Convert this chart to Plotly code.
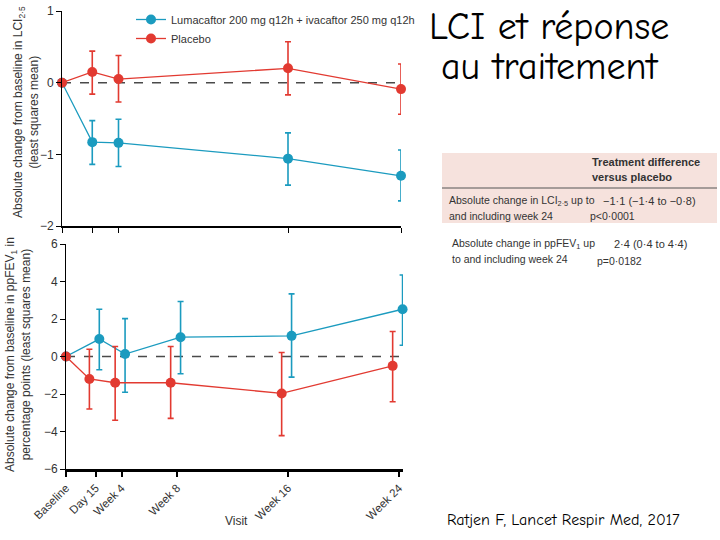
import plotly.graph_objects as go

# ---------------- data ----------------
visit_days = [0, 15, 28, 56, 112, 168]
visit_labels = ["Baseline", "Day 15", "Week 4", "Week 8", "Week 16", "Week 24"]

lci_days = [0, 15, 28, 112, 168]
lci_luma = [0, -0.83, -0.84, -1.06, -1.30]
lci_luma_hi = [0, -0.53, -0.51, -0.70, -0.94]
lci_luma_lo = [0, -1.14, -1.17, -1.43, -1.65]
lci_plac = [0, 0.15, 0.05, 0.20, -0.09]
lci_plac_hi = [0, 0.44, 0.38, 0.57, 0.26]
lci_plac_lo = [0, -0.16, -0.27, -0.17, -0.44]

fev_days = [0, 15, 28, 56, 112, 168]
fev_luma = [0, 0.93, 0.13, 1.03, 1.10, 2.52]
fev_luma_hi = [0, 2.52, 2.02, 2.93, 3.34, 4.35]
fev_luma_lo = [0, -0.71, -1.91, -0.92, -1.10, 0.60]
fev_plac = [0, -1.20, -1.40, -1.40, -1.97, -0.50]
fev_plac_hi = [0, 0.39, 0.53, 0.53, 0.21, 1.33]
fev_plac_lo = [0, -2.80, -3.40, -3.30, -4.22, -2.41]

series_names = ["Lumacaftor 200 mg q12h + ivacaftor 250 mg q12h", "Placebo"]

# ---------------- style ----------------
TEAL = "#1b9bbf"
RED = "#e23a31"
W, H = 720, 540
FONT = "Liberation Sans Narrow, Liberation Sans, Arial, sans-serif"
COMIC = "Comic Sans MS, Comic Neue, Noto Sans, sans-serif"
DODGE_LUMA = 1.8   # days, horizontal dodge in the lower panel
DODGE_PLAC = -3.2
X2_MAX = 170


def px(x):
    return x / W


def py(y):
    return 1 - y / H


def err(v, hi, lo):
    return dict(type="data", symmetric=False,
                array=[h - a for h, a in zip(hi, v)],
                arrayminus=[a - l for l, a in zip(lo, v)],
                thickness=1.6, width=3)


fig = go.Figure()

# zero reference lines
for xa, ya, xs in [("x", "y", lci_days), ("x2", "y2", fev_days)]:
    fig.add_trace(go.Scatter(x=[xs[0], xs[-1]], y=[0, 0], mode="lines",
                             line=dict(color="#4a4a4a", width=1.5, dash="dash"),
                             xaxis=xa, yaxis=ya, showlegend=False, hoverinfo="skip"))

# top panel (LCI)
fig.add_trace(go.Scatter(x=lci_days, y=lci_luma, mode="lines+markers", name=series_names[0],
                         line=dict(color=TEAL, width=1.3), marker=dict(color=TEAL, size=10),
                         error_y=dict(err(lci_luma, lci_luma_hi, lci_luma_lo), color=TEAL),
                         cliponaxis=False, xaxis="x", yaxis="y"))
fig.add_trace(go.Scatter(x=lci_days, y=lci_plac, mode="lines+markers", name=series_names[1],
                         line=dict(color=RED, width=1.3), marker=dict(color=RED, size=10),
                         error_y=dict(err(lci_plac, lci_plac_hi, lci_plac_lo), color=RED),
                         cliponaxis=False, xaxis="x", yaxis="y"))

# bottom panel (ppFEV1)
fev_x_luma = [d + (DODGE_LUMA if d > 0 else 0) for d in fev_days]
fev_x_plac = [d + (DODGE_PLAC if d > 0 else 0) for d in fev_days]
fig.add_trace(go.Scatter(x=fev_x_luma, y=fev_luma, mode="lines+markers", name=series_names[0],
                         line=dict(color=TEAL, width=1.3), marker=dict(color=TEAL, size=10),
                         error_y=dict(err(fev_luma, fev_luma_hi, fev_luma_lo), color=TEAL),
                         cliponaxis=False, showlegend=False, xaxis="x2", yaxis="y2"))
fig.add_trace(go.Scatter(x=fev_x_plac, y=fev_plac, mode="lines+markers", name=series_names[1],
                         line=dict(color=RED, width=1.3), marker=dict(color=RED, size=10),
                         error_y=dict(err(fev_plac, fev_plac_hi, fev_plac_lo), color=RED),
                         cliponaxis=False, showlegend=False, xaxis="x2", yaxis="y2"))

axis_common = dict(showgrid=False, zeroline=False, showline=True, linecolor="black",
                   ticks="outside", tickcolor="black", ticklen=5, automargin=False,
                   tickfont=dict(family=FONT, size=12, color="#333"))

x2_right = 66 + (399 - 66) * X2_MAX / 168

fig.update_layout(
    template="none",
    width=W, height=H, margin=dict(l=0, r=0, t=0, b=0, autoexpand=False),
    paper_bgcolor="white", plot_bgcolor="white",
    font=dict(family=FONT, size=12, color="#333"),
    xaxis=dict(axis_common, domain=[px(62), px(401)], range=[0, 168],
               tickvals=lci_days, showticklabels=False, linewidth=1.5, anchor="y"),
    yaxis=dict(axis_common, domain=[py(226), py(11)], range=[-2, 1],
               tickvals=[-2, -1, 0, 1], linewidth=1, anchor="x"),
    xaxis2=dict(axis_common, domain=[px(66), px(x2_right)], range=[0, X2_MAX],
                tickvals=visit_days, ticktext=visit_labels, tickangle=-45,
                linewidth=2.5, tickwidth=1.5, anchor="y2",
                tickfont=dict(family=FONT, size=11.5, color="#333")),
    yaxis2=dict(axis_common, domain=[py(469), py(244)], range=[-6, 6],
                tickvals=[-6, -4, -2, 0, 2, 4, 6], linewidth=1, anchor="x2"),
    legend=dict(x=px(131), y=py(5), xanchor="left", yanchor="top",
                bgcolor="rgba(0,0,0,0)", font=dict(family=FONT, size=11, color="#333"),
                tracegroupgap=0, itemwidth=30),
    showlegend=True,
)

# table box
fig.add_shape(type="rect", xref="paper", yref="paper", x0=px(442), x1=px(717),
              y0=py(223), y1=py(153), fillcolor="#f6e2dd", line=dict(width=0), layer="below")
fig.add_shape(type="line", xref="paper", yref="paper", x0=px(442), x1=px(717),
              y0=py(188), y1=py(188), line=dict(color="#555", width=1))

ann = []


def text(x, y, t, size=12, family=FONT, color="#333", xanchor="left", angle=0):
    ann.append(dict(x=px(x), y=py(y), xref="paper", yref="paper", text=t, showarrow=False,
                    xanchor=xanchor, yanchor="middle", textangle=angle, align="center",
                    font=dict(family=family, size=size, color=color)))


# axis titles
text(26, 112, "Absolute change from baseline in LCI<sub>2·5</sub><br>(least squares mean)",
     xanchor="center", angle=-90)
text(18, 355, "Absolute change from baseline in ppFEV<sub>1</sub> in<br>percentage points (least squares mean)",
     xanchor="center", angle=-90)
text(223, 521, "Visit")

# titles
text(549, 27, "LCI et réponse", size=38, family=COMIC, color="black", xanchor="center")
text(549, 67, "au traitement", size=38, family=COMIC, color="black", xanchor="center")
text(563, 520, "Ratjen F, Lancet Respir Med, 2017", size=16, family=COMIC, color="black",
     xanchor="center")

# table text
TS = 10.5
text(590, 162, "<b>Treatment difference</b>", size=TS + 0.5)
text(590, 177, "<b>versus placebo</b>", size=TS + 0.5)
text(447, 201, "Absolute change in LCI<sub>2·5</sub> up to", size=TS)
text(447, 216, "and including week 24", size=TS)
text(601, 201, "−1·1 (−1·4 to −0·8)", size=TS + 0.5)
text(588, 216, "p<0·0001", size=TS)
text(450, 244, "Absolute change in ppFEV<sub>1</sub> up", size=TS)
text(450, 259, "to and including week 24", size=TS)
text(612, 244, "2·4 (0·4 to 4·4)", size=TS + 0.5)
text(595, 261, "p=0·0182", size=TS)

fig.update_layout(annotations=ann)

fig.write_html("out.html", config={"displayModeBar": False},
               post_script="document.body.style.margin='0';document.body.style.overflow='hidden';")
